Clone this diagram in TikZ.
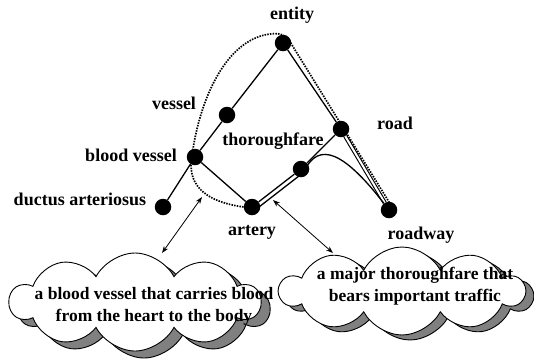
\documentclass[tikz,border=0pt]{standalone}
\usepackage{fontspec}
\setmainfont{Liberation Serif}
\usetikzlibrary{shapes.symbols,arrows.meta,calc}
\begin{document}
\begin{tikzpicture}[x=1pt,y=-1pt,
  dot/.style={circle,fill=black,minimum size=16.5pt,inner sep=0pt},
  lbl/.style={font=\fontsize{18}{20}\selectfont\bfseries,inner sep=0pt},
  ctext/.style={font=\fontsize{17.5}{22}\selectfont\bfseries,align=center,inner sep=0pt},
  edge/.style={line width=1.3pt},
  dotline/.style={dash pattern=on 1.5pt off 1.2pt,line width=1.7pt},
  biarrow/.style={line width=0.8pt,{Stealth[length=7pt,width=5pt]}-{Stealth[length=7pt,width=5pt]}},
  cloudbody/.style={cloud,cloud puffs=10,cloud puff arc=125,aspect=2.6,draw=black,line width=0.9pt,inner sep=0pt},
]
\useasboundingbox (0,0) rectangle (534,360);

% clouds (shadow first)
\node[cloudbody,fill=gray,minimum width=250pt,minimum height=98pt] (lcs) at (144,309) {};
\node[cloudbody,fill=white,minimum width=250pt,minimum height=98pt] (lc) at (135,302) {};
\node[cloudbody,fill=gray,minimum width=244pt,minimum height=88pt] (rcs) at (410,296) {};
\node[cloudbody,fill=white,minimum width=244pt,minimum height=88pt] (rc) at (402,291) {};

\node[ctext] (lct) at (154,306) {a blood vessel that carries blood\\from the heart to the body};
\node[ctext] (rct) at (415,286) {a major thoroughfare that\\bears important traffic};

% dots
\node[dot] (entity) at (283,43) {};
\node[dot] (vessel) at (227,115) {};
\node[dot] (road) at (341,129) {};
\node[dot] (blood) at (195,157) {};
\node[dot] (thor) at (301,169) {};
\node[dot] (ductus) at (163,207) {};
\node[dot] (artery) at (252,207) {};
\node[dot] (roadway) at (389,210) {};

% labels
\node[lbl] (lentity) at (292,15) {entity};
\node[lbl] (lvessel) at (174,103) {vessel};
\node[lbl] (lroad) at (395,123) {road};
\node[lbl] (lblood) at (131,155) {blood vessel};
\node[lbl] (lthor) at (273,141) {thoroughfare};
\node[lbl] (lductus) at (80,199) {ductus arteriosus};
\node[lbl] (lartery) at (252,232) {artery};
\node[lbl] (lroadway) at (421,235) {roadway};

% edges
\draw[edge] (entity) -- (vessel) -- (blood) -- (ductus);
\draw[edge] (blood) -- (artery);
\draw[edge] (entity) -- (road);
\draw[edge] (road) -- (thor);
\draw[edge] (artery) -- (thor);
\draw[edge,double,double distance=2pt,line width=1.1pt] (road) -- (roadway);
\draw[edge] ($(artery)+(2.6,3.4)$) -- ($(thor)+(2.6,3.4)$)
  .. controls (315,148) and (335,140) .. (roadway);

% dotted path
\draw[dotline] (artery.west) .. controls (215,203) and (191,192) .. (191,165)
  .. controls (196,110) and (222,40) .. (270,34)
  .. controls (282,32) and (288,37) .. (292,45) -- ($(roadway.north)+(1,2)$);

% arrows
\coordinate (la) at (162,253);
\coordinate (lb) at (202,197);
\coordinate (ra) at (273,200);
\coordinate (rb) at (333,253);
\draw[biarrow] (la) -- (lb);
\draw[biarrow] (ra) -- (rb);
\end{tikzpicture}
\end{document}
